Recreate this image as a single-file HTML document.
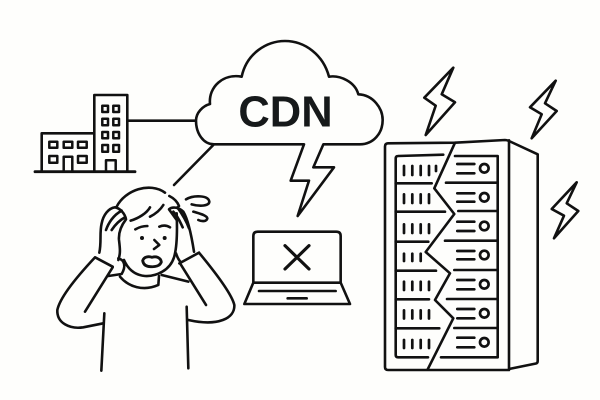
<!DOCTYPE html>
<html><head><meta charset="utf-8"><style>
html,body{margin:0;padding:0;background:#fefefc;width:600px;height:400px;overflow:hidden}
svg{display:block}
</style></head><body>
<svg width="600" height="400" viewBox="0 0 600 400" fill="none" stroke="#111" stroke-linecap="round" stroke-linejoin="round">
<rect width="600" height="400" fill="#fefefc" stroke="none"/>
<!-- building -->
<g stroke-width="2.600">
<path d="M35,171.700H135" stroke-width="2.800"/>
<path d="M41.700,171.700V133.300H94.300M94.300,171.700V95H127.300V171.700"/>
<path d="M127.300,120.700H195"/>
<path d="M213.300,145L174,185"/>
<g stroke-width="2.500">
<rect x="102.300" y="105.700" width="5.700" height="6.300"/><rect x="113.300" y="105.700" width="5.700" height="6.300"/>
<rect x="102.300" y="118.700" width="5.700" height="6.600"/><rect x="113.300" y="118.700" width="5.700" height="6.600"/>
<rect x="102.300" y="132" width="5.700" height="6.300"/><rect x="113.300" y="132" width="5.700" height="6.300"/>
<rect x="102.300" y="145" width="5.700" height="6.700"/><rect x="113.300" y="145" width="5.700" height="6.700"/>
<path d="M106,171.700V160.300H115.700V171.700"/>
<rect x="49.300" y="141.700" width="8" height="6"/><rect x="63.700" y="141.700" width="8.600" height="6"/><rect x="78" y="141.700" width="8.700" height="6"/>
<rect x="49.300" y="156" width="8" height="6.700"/><rect x="78" y="156" width="8.700" height="6.700"/>
<path d="M63.700,171.700V156.700H72.300V171.700"/>
</g>
</g>
<!-- cloud + bolt -->
<g transform="translate(190,30) scale(.33333)" stroke-width="7.800">
<path d="M342,343L72,343C40,343 18,310 18,272C18,248 38,228 60,222C55,170 100,130 155,140C170,70 230,33 285,33C345,33 400,75 417,140C450,135 495,155 505,193C550,195 578,235 578,270C578,310 550,343 510,343L400,343L370,412L432,412L323,558L357,452L302,452Z"/>
<path d="M190,755V618Q190,605 203,605H439Q452,605 452,618V755"/>
<path d="M190,758H452L480,822H163Z"/>
<path d="M207,783H437M293,805H350"/>
<path d="M285,647L357,717M357,647L285,717" stroke-width="9.500"/>
</g>
<text x="285.500" y="126.500" text-anchor="middle" font-family="'Liberation Sans',sans-serif" font-weight="700" font-size="43.500" fill="#16191a" stroke="none">CDN</text>
<!-- person -->
<g transform="translate(50,170) scale(.33333)" stroke-width="7.800">
<path d="M200,110C225,60 300,35 345,68M358,78C372,85 382,95 387,108"/>
<path d="M242,152C265,145 290,130 300,112M300,140C320,130 332,118 340,105"/>
<path d="M256,178C270,170 280,168 292,168M328,170C340,165 352,167 360,172"/>
<circle cx="276" cy="204" r="6" fill="#111" stroke="none"/><circle cx="344" cy="204" r="6" fill="#111" stroke="none"/>
<path d="M313,210L328,225L312,237"/>
<path d="M278,272C282,260 296,258 306,262C318,258 332,262 334,276C330,288 315,291 302,290C288,290 280,284 278,272Z" stroke-width="8.500"/>
<path d="M380,130C382,180 382,230 372,262C360,300 320,320 285,318C255,315 235,300 222,270"/>
<path d="M148,248C155,215 148,190 155,160C160,135 175,115 195,112C210,115 225,130 228,148C215,165 205,185 207,210C210,235 212,250 205,270"/>
<path d="M168,180C175,160 190,135 215,122M185,180C195,165 210,150 225,142"/>
<path d="M380,150L357,118C365,110 385,110 400,125C415,150 425,200 432,245"/>
<path d="M370,125C385,140 392,160 398,172M382,112C395,130 410,155 417,175"/>
<path d="M378,250C382,262 386,270 392,276"/>
<path d="M135,262L188,290M135,262C90,310 30,380 22,420C20,460 60,478 100,472L160,460M188,292L105,425"/>
<path d="M205,265C225,270 228,290 215,312L175,318"/>
<path d="M388,280L447,248M447,248C490,300 545,370 553,405C555,445 505,470 415,450M392,283L468,405"/>
<path d="M210,320C235,350 280,365 325,345L327,318M335,315L415,335"/>
<path d="M163,430L154,602M410,410L415,595"/>
<path d="M408,88C430,75 475,75 478,95C478,108 450,110 425,103M430,125C445,130 470,135 472,145C470,155 455,155 445,150"/>
</g>
<!-- server -->
<g stroke-width="2.600">
<path d="M455,142.700L388,143.300Q385,143.500 385,146.500V367Q385,370 388,370H427.700M427.700,370H509V140.300M455,142.700L505,140Q507,140 509,141L537.700,154.300V361Q537.700,363 536,363.500L509,369"/>
<path d="M455,142.700L434.300,188.300L454.300,214L425.700,252L450,273.300L435,300L453.300,318.300L427.700,369.300"/>
<path d="M443.300,154.700L398,156Q395.700,156 395.700,158.500V355Q395.700,357.300 398,357.300H428M441,357.300H497.700V156H455"/>
<path d="M395.700,183.300H431.700M446,182.700H497M395.700,211.700H445M458.300,211H497M395.700,241.700H428.300M445,240.700H497M395.700,270.700H436M454.300,270H497M395.700,299.300H429M447,299H497M395.700,328.300H439.300M454.300,328H497"/>
</g>
<g stroke-width="2.700">
<path d="M404,166V175M412.300,166V175M420.700,166V175M429,166V175M436,166V171"/>
<path d="M404,194.300V203M412.300,194.300V203M420.700,194.300V203M429,194.300V203"/>
<path d="M404,224.300V233M412.300,224.300V233M420.700,224.300V233M429,224.300V233"/>
<path d="M404,253.700V261M412.300,253.700V261M420.700,253.700V261"/>
<path d="M404,281.700V290M412.300,281.700V290M420.700,281.700V290M429,281.700V290"/>
<path d="M404,310.300V318.500M412.300,310.300V318.500M420.700,310.300V318.500M429,310.300V318.500"/>
<path d="M404,340V348M412.300,340V348M420.700,340V348M429,340V348"/>
<path d="M457.300,164H474.300M457.300,173.300H474.300M457.300,193.300H474.300M457.300,201.700H474.300M457.300,221.700H474.300M457.300,231H474.300M457.300,251H474.300M457.300,259.300H474.300M457.300,280H474.300M457.300,289.300H474.300M457.300,309H474.300M457.300,318.300H474.300M457.300,337.700H474.300M457.300,347.300H474.300"/>
<circle cx="484.300" cy="168.300" r="4.300"/><circle cx="484.300" cy="197.300" r="4.300"/><circle cx="484.300" cy="226" r="4.300"/><circle cx="484.300" cy="255" r="4.300"/><circle cx="484.300" cy="284.300" r="4.300"/><circle cx="484.300" cy="313.300" r="4.300"/><circle cx="484.300" cy="342.300" r="4.300"/>
</g>
<!-- bolts -->
<g stroke-width="2.600">
<path d="M453.300,67.700L424.300,97.700L435.700,105.700L425.700,135L455,102.300L441.700,94.300Z"/>
<path d="M555.700,80.700L530,107.300L541.700,114.300L531.700,138.300L556.700,111L545,103.300Z"/>
<path d="M576.700,182.300L551.700,209L564,215.700L554,238.300L578.300,211L566.700,203.300Z"/>
</g>
</svg>
</body></html>
